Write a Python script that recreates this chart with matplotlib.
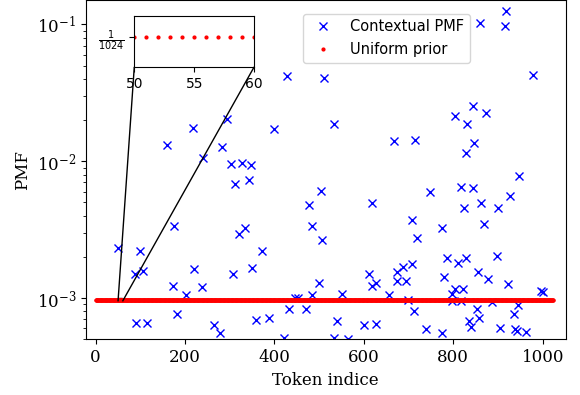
import matplotlib
matplotlib.use("Agg")
import matplotlib.pyplot as plt
import numpy as np
from mpl_toolkits.axes_grid1.inset_locator import mark_inset

plt.rcParams["font.family"] = "DejaVu Serif"
plt.rcParams["mathtext.fontset"] = "dejavuserif"

# contextual PMF (token index, probability)
ctx_tokens = [
    218, 159, 400, 282, 240, 302, 327, 347, 311, 343, 503, 477, 176, 321, 335,
    484, 506, 49, 100, 371, 293, 89, 105, 173, 202, 219, 238, 307, 350, 91,
    114, 182, 265, 279, 358, 388, 421, 433, 446, 453, 470, 484, 499, 533, 830,
    667, 715, 846, 828, 947, 748, 817, 843, 619, 824, 863, 900, 926, 707, 774,
    868, 718, 785, 828, 811, 897, 708, 688, 675, 611, 856, 780, 878, 675, 694,
    619, 627, 923, 803, 821, 796, 996, 1001, 550, 656, 698, 797, 817, 886, 945,
    712, 852, 936, 858, 836, 540, 839, 601, 627, 739, 905, 938, 942, 962, 774,
    534, 564, 429, 511, 860, 917, 916, 978, 803, 843, 874,
]
ctx_pmf = [
    0.0176, 0.0131, 0.0173, 0.0127, 0.0106, 0.0096, 0.0098, 0.0094, 0.0068,
    0.0073, 0.0061, 0.00477, 0.00336, 0.00293, 0.00328, 0.00337, 0.00264,
    0.00232, 0.00220, 0.00220, 0.0204, 0.00151, 0.00158, 0.00123, 0.00106,
    0.00163, 0.00121, 0.00151, 0.00166, 0.00066, 0.00066, 0.00076, 0.000638,
    0.000552, 0.00069, 0.00071, 0.000508, 0.000827, 0.000995, 0.000995,
    0.000827, 0.00106, 0.00129, 0.0188, 0.0188, 0.0141, 0.0142, 0.0136,
    0.0115, 0.0078, 0.0060, 0.00649, 0.00638, 0.00497, 0.00459, 0.00497,
    0.00454, 0.00558, 0.00371, 0.00328, 0.00347, 0.00273, 0.00195, 0.00198,
    0.00182, 0.00204, 0.00177, 0.00168, 0.00156, 0.00150, 0.00154, 0.00143,
    0.00139, 0.00134, 0.00134, 0.00123, 0.00128, 0.00126, 0.00116, 0.00116,
    0.00107, 0.00113, 0.00110, 0.00107, 0.00105, 0.000967, 0.000956,
    0.000956, 0.000930, 0.000889, 0.000808, 0.000827, 0.000764, 0.000710,
    0.000683, 0.000676, 0.000617, 0.000635, 0.000646, 0.000591, 0.000600,
    0.000591, 0.000577, 0.000562, 0.000552, 0.000513, 0.000499, 0.0417,
    0.0408, 0.1028, 0.1265, 0.0973, 0.0425, 0.0214, 0.0252, 0.0227,
]

vocab_size = 1024
uniform_tokens = np.arange(vocab_size)
uniform_pmf = np.full(vocab_size, 1 / vocab_size)

fig, ax = plt.subplots(figsize=(5.8, 3.95), dpi=100)
fig.subplots_adjust(left=0.148, right=0.975, bottom=0.141, top=0.999)

ax.plot(ctx_tokens, ctx_pmf, "x", color="blue", label="Contextual PMF")
ax.plot(uniform_tokens, uniform_pmf, ".", color="red", markersize=4,
        label="Uniform prior")
ax.set_yscale("log")
ax.set_xlim(-22, 1051)
ax.set_ylim(5e-4, 0.15)
ax.set_xlabel("Token indice", fontsize=12)
ax.set_ylabel("PMF", fontsize=12)
ax.tick_params(labelsize=12)

ax.legend(loc="upper right", bbox_to_anchor=(0.8, 0.961), borderaxespad=0,
          prop={"family": "DejaVu Sans", "size": 10.5})

# zoomed inset on a few uniform tokens
axins = ax.inset_axes([0.101, 0.804, 0.25, 0.149])
axins.plot(uniform_tokens, uniform_pmf, ".", color="red", markersize=4)
axins.set_xlim(50, 60)
v = 1 / vocab_size
axins.set_ylim(v - 0.00003, v + 0.0000206)
axins.set_xticks([50, 55, 60])
axins.set_yticks([v])
axins.set_yticklabels([r"$\frac{1}{1024}$"])
for lbl in axins.get_xticklabels() + axins.get_yticklabels():
    lbl.set_fontfamily("DejaVu Sans")
    lbl.set_fontsize(10)
    lbl.set_math_fontfamily("dejavusans")
axins.minorticks_off()
mark_inset(ax, axins, loc1=3, loc2=4, fc="none", ec="0", lw=1)

plt.savefig("out.png", dpi=100)
